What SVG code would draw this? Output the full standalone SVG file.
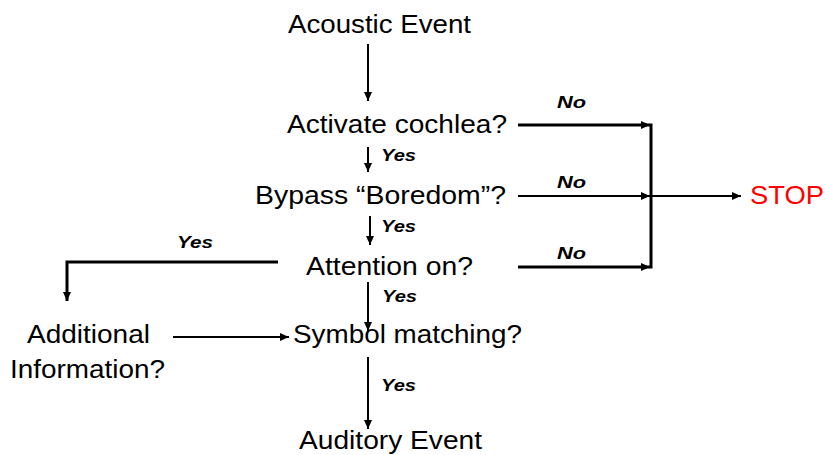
<svg xmlns="http://www.w3.org/2000/svg" width="825" height="455" viewBox="0 0 825 455">
<style>
.t{font-family:"Liberation Sans",Arial,sans-serif;font-size:26px;fill:#000}
.l{font-family:"Liberation Sans",Arial,sans-serif;font-size:16px;font-weight:bold;font-style:italic;fill:#000}
.c{stroke:#000;fill:none}
.w2{stroke-width:2}
.w3{stroke-width:3}
</style>
<defs>
<marker id="ah" markerUnits="userSpaceOnUse" markerWidth="10" markerHeight="8" refX="9" refY="4" orient="auto">
<path d="M0,0 L9,4 L0,8 Z" fill="#000"/>
</marker>
</defs>
<rect width="825" height="455" fill="#fff"/>
<g id="connectors">
<line class="c w2" x1="368" y1="44" x2="368" y2="101" marker-end="url(#ah)"/>
<line class="c w2" x1="368" y1="147" x2="368" y2="172" marker-end="url(#ah)"/>
<line class="c w2" x1="370" y1="216" x2="370" y2="245" marker-end="url(#ah)"/>
<line class="c w2" x1="368" y1="282" x2="368" y2="331" marker-end="url(#ah)"/>
<line class="c w2" x1="368" y1="357" x2="368" y2="429" marker-end="url(#ah)"/>
<line class="c w3" x1="518" y1="125" x2="650" y2="125" marker-end="url(#ah)"/>
<line class="c w2" x1="518" y1="196" x2="650" y2="196" marker-end="url(#ah)"/>
<line class="c w3" x1="518" y1="267" x2="650" y2="267" marker-end="url(#ah)"/>
<line class="c w3" x1="651" y1="123.5" x2="651" y2="268.5"/>
<line class="c w2" x1="651" y1="196" x2="741" y2="196" marker-end="url(#ah)"/>
<polyline class="c w3" points="278,262 67,262 67,301" marker-end="url(#ah)"/>
<line class="c w2" x1="173" y1="337" x2="289" y2="337" marker-end="url(#ah)"/>
<text class="l" x="557" y="108" textLength="29" lengthAdjust="spacingAndGlyphs">No</text>
<text class="l" x="557" y="188" textLength="29" lengthAdjust="spacingAndGlyphs">No</text>
<text class="l" x="557" y="259" textLength="29" lengthAdjust="spacingAndGlyphs">No</text>
<text class="l" x="381" y="161" textLength="35" lengthAdjust="spacingAndGlyphs">Yes</text>
<text class="l" x="381" y="232" textLength="35" lengthAdjust="spacingAndGlyphs">Yes</text>
<text class="l" x="382" y="302" textLength="35" lengthAdjust="spacingAndGlyphs">Yes</text>
<text class="l" x="381" y="391" textLength="35" lengthAdjust="spacingAndGlyphs">Yes</text>
<text class="l" x="177" y="248" textLength="36" lengthAdjust="spacingAndGlyphs">Yes</text>
</g>
<g id="acoustic"><text class="t" x="288" y="33" textLength="183" lengthAdjust="spacingAndGlyphs">Acoustic Event</text></g>
<g id="cochlea"><text class="t" x="287" y="133" textLength="220" lengthAdjust="spacingAndGlyphs">Activate cochlea?</text></g>
<g id="boredom"><text class="t" x="255" y="204" textLength="251" lengthAdjust="spacingAndGlyphs">Bypass “Boredom”?</text></g>
<g id="attention"><text class="t" x="306" y="275" textLength="167" lengthAdjust="spacingAndGlyphs">Attention on?</text></g>
<g id="symbol"><text class="t" x="293" y="343" textLength="229" lengthAdjust="spacingAndGlyphs">Symbol matching?</text></g>
<g id="auditory"><text class="t" x="299" y="449" textLength="183" lengthAdjust="spacingAndGlyphs">Auditory Event</text></g>
<g id="additional"><text class="t" x="27" y="343" textLength="123" lengthAdjust="spacingAndGlyphs">Additional</text><text class="t" x="10" y="378" textLength="155" lengthAdjust="spacingAndGlyphs">Information?</text></g>
<g id="stop"><text class="t" x="750" y="204" textLength="74" lengthAdjust="spacingAndGlyphs" fill="#ff0000" style="fill:#ff0000">STOP</text></g>
</svg>
